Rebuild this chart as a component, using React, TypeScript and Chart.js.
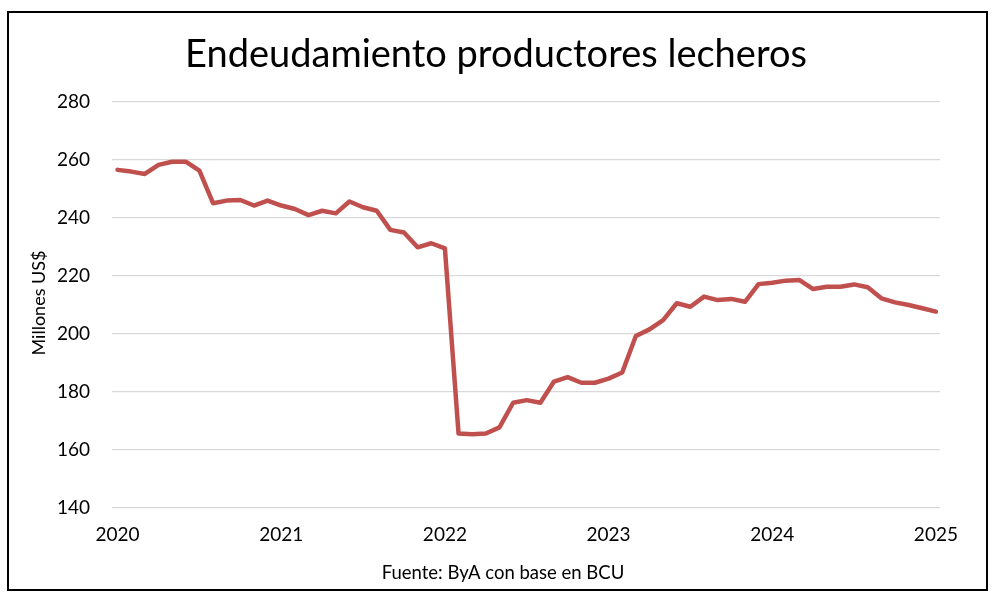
import { useEffect, useRef } from "react"
import { Chart, registerables } from "chart.js"

Chart.register(...registerables)

const FONT = "Lato, 'Open Sans', sans-serif"

const chartTitle = "Endeudamiento productores lecheros"
const axisTitle = "Millones US$"
const sourceNote = "Fuente: ByA con base en BCU"

// monthly debt, millions of US$, Jan of each year first
const startYear = 2020
const debt2020 = [256.6, 256.0, 255.2, 258.3, 259.4, 259.4, 256.3, 245.1, 246.0, 246.2, 244.3, 246.0]
const debt2021 = [244.3, 243.1, 241.0, 242.5, 241.6, 245.7, 243.7, 242.5, 235.9, 235.0, 229.9, 231.3]
const debt2022 = [229.5, 165.7, 165.4, 165.7, 167.8, 176.3, 177.2, 176.3, 183.6, 185.1, 183.2, 183.2]
const debt2023 = [184.6, 186.7, 199.3, 201.6, 204.8, 210.6, 209.4, 212.9, 211.7, 212.1, 211.1, 217.2]
const debt2024 = [217.7, 218.4, 218.6, 215.5, 216.3, 216.3, 217.1, 216.1, 212.3, 210.9, 210.0, 208.9]
const debt2025 = [207.7]

const yearTicks = [2020, 2021, 2022, 2023, 2024, 2025]
const yMin = 140
const yMax = 280
const yStep = 20

const allDebt = [...debt2020, ...debt2021, ...debt2022, ...debt2023, ...debt2024, ...debt2025]

// draws the title, the rotated axis label and the source note
const captions = {
  id: "captions",
  afterDraw(chart: Chart) {
    const { ctx } = chart
    ctx.save()
    ctx.fillStyle = "#000"
    ctx.textAlign = "center"
    ctx.textBaseline = "alphabetic"

    ctx.font = `38px ${FONT}`
    ctx.fillText(chartTitle, 496, 67)

    ctx.font = `18.5px ${FONT}`
    ctx.fillText(sourceNote, 503, 579)

    ctx.translate(45, 303)
    ctx.rotate(-Math.PI / 2)
    ctx.font = `18px ${FONT}`
    ctx.fillText(axisTitle, 0, 0)
    ctx.restore()
  },
}

export default function App() {
  const chartRef = useRef<HTMLCanvasElement>(null)
  const chartInstance = useRef<Chart | null>(null)

  useEffect(() => {
    if (!chartRef.current) return
    if (chartInstance.current) chartInstance.current.destroy()

    const ctx = chartRef.current.getContext("2d")
    if (!ctx) return

    chartInstance.current = new Chart(ctx, {
      type: "line",
      data: {
        datasets: [
          {
            label: axisTitle,
            data: allDebt.map((v, i) => ({ x: startYear + i / 12, y: v })),
            borderColor: "#c0504d",
            borderWidth: 4.5,
            borderJoinStyle: "round",
            borderCapStyle: "round",
            pointRadius: 0,
            tension: 0,
          },
        ],
      },
      options: {
        animation: false,
        responsive: false,
        layout: { padding: { left: 0, top: 102, right: 60, bottom: 0 } },
        plugins: {
          legend: { display: false },
          tooltip: { enabled: false },
        },
        scales: {
          x: {
            type: "linear",
            min: 2019.966,
            max: 2025.025,
            afterBuildTicks: (scale) => {
              scale.ticks = yearTicks.map((v) => ({ value: v }))
            },
            afterFit: (scale) => {
              scale.height = 100
            },
            grid: { display: false },
            border: { display: false },
            ticks: {
              padding: 7,
              color: "#000",
              font: { family: FONT, size: 19 },
              maxRotation: 0,
              autoSkip: false,
              callback: (v) => String(v),
            },
          },
          y: {
            min: yMin,
            max: yMax,
            afterFit: (scale) => {
              scale.width = 112
            },
            grid: { color: "#d9d9d9", lineWidth: 1.2, drawTicks: false },
            border: { display: false },
            ticks: {
              stepSize: yStep,
              padding: 22,
              color: "#000",
              font: { family: FONT, size: 19 },
            },
          },
        },
      },
      plugins: [captions],
    })

    return () => {
      if (chartInstance.current) {
        chartInstance.current.destroy()
        chartInstance.current = null
      }
    }
  }, [])

  return (
    <div style={{ position: "fixed", left: 0, top: 0, width: 1000, height: 608, background: "#fff" }}>
      <canvas ref={chartRef} width={1000} height={608} style={{ width: 1000, height: 608 }} />
      <div
        style={{
          position: "absolute",
          left: 7,
          top: 11,
          width: 981,
          height: 580,
          border: "2px solid #000",
          boxSizing: "border-box",
          pointerEvents: "none",
        }}
      />
    </div>
  )
}
